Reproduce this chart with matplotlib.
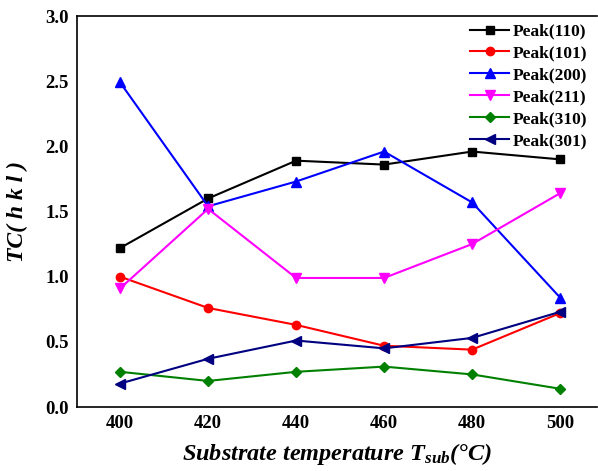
import matplotlib
matplotlib.use("Agg")
import matplotlib.pyplot as plt

temps = [400, 420, 440, 460, 480, 500]
peak_110 = [1.22, 1.60, 1.89, 1.86, 1.96, 1.90]
peak_101 = [1.00, 0.76, 0.63, 0.47, 0.44, 0.72]
peak_200 = [2.49, 1.54, 1.73, 1.96, 1.57, 0.84]
peak_211 = [0.91, 1.52, 0.99, 0.99, 1.25, 1.64]
peak_310 = [0.27, 0.20, 0.27, 0.31, 0.25, 0.14]
peak_301 = [0.18, 0.37, 0.51, 0.45, 0.53, 0.73]
labels = ["Peak(110)", "Peak(101)", "Peak(200)", "Peak(211)", "Peak(310)", "Peak(301)"]
x_ticks = [400, 420, 440, 460, 480, 500]
y_ticks = [0.0, 0.5, 1.0, 1.5, 2.0, 2.5, 3.0]

plt.rcParams['font.family'] = 'Liberation Serif'
plt.rcParams['mathtext.fontset'] = 'custom'
plt.rcParams['mathtext.it'] = 'Liberation Serif:italic:bold'
plt.rcParams['mathtext.rm'] = 'Liberation Serif:bold'
plt.rcParams['mathtext.bf'] = 'Liberation Serif:bold'

fig = plt.figure(figsize=(5.98, 4.71), dpi=100)
ax = fig.add_axes([77/598, 1 - 407/471, (597 - 77)/598, (407 - 16)/471])

series = [peak_110, peak_101, peak_200, peak_211, peak_310, peak_301]
colors = ["black", "red", "blue", "magenta", "green", "navy"]
markers = ["s", "o", "^", "v", "D", "<"]
sizes = [5.5, 6, 7, 7, 5.5, 7]
for ys, c, m, s, lab in zip(series, colors, markers, sizes, labels):
    ax.plot(temps, ys, color=c, marker=m, markersize=s, linewidth=1.5, label=lab)

ax.set_xlim(390.2, 508.4)
ax.set_ylim(0, 3.0)
ax.set_xticks(x_ticks)
ax.set_yticks(y_ticks)
ax.set_yticklabels([f"{v:.1f}" for v in y_ticks])
ax.tick_params(length=0, labelsize=13.5, pad=6)
for t in ax.get_xticklabels() + ax.get_yticklabels():
    t.set_fontweight('bold')
ax.spines['right'].set_visible(False)
for sp in ['left', 'bottom', 'top']:
    ax.spines[sp].set_linewidth(1.2)

ax.set_ylabel("TC( h k l )", fontsize=17, fontweight='bold', style='italic', labelpad=12)
ax.set_xlabel(r"Substrate temperature $T_{sub}$(°C)", fontsize=17.5, fontweight='bold', style='italic', labelpad=6)

leg = ax.legend(loc='upper right', bbox_to_anchor=(1.005, 1.012), frameon=False,
                prop={'family': 'Liberation Serif', 'weight': 'bold', 'size': 12.5},
                handlelength=2.2, labelspacing=0.33, handletextpad=0.25, borderaxespad=0.3)

fig.savefig("out.png", dpi=100)
